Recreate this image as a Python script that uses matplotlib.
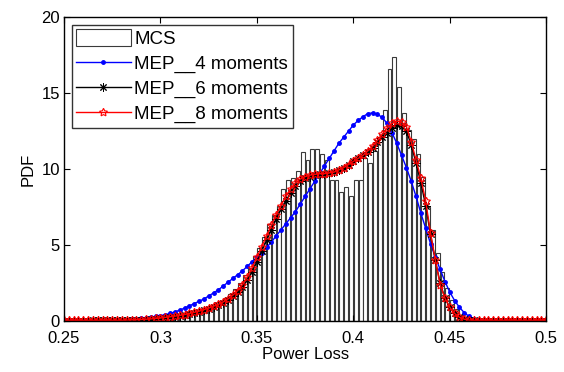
import numpy as np
import matplotlib
matplotlib.use('Agg')
import matplotlib.pyplot as plt

plt.rcParams['font.family'] = ['Liberation Sans', 'DejaVu Sans']

# MCS histogram (bin width 0.0025, first bin centre 0.29125)
bin_width = 0.0025
mcs_first = 0.29125
mcs_pdf = [0.05, 0.08, 0.1, 0.15, 0.2, 0.25, 0.3, 0.35, 0.4, 0.45,
           0.5, 0.55, 0.7, 0.8, 0.9, 1.1, 1.3, 1.5, 1.8, 2.1,
           2.5, 3.0, 3.5, 4.3, 4.8, 5.5, 6.4, 7.0, 7.6, 8.7,
           9.3, 9.4, 9.9, 11.1, 10.6, 11.3, 11.3, 11.0, 10.6, 9.3,
           9.3, 8.5, 8.8, 8.2, 9.3, 9.3, 10.7, 10.4, 11.2, 12.1,
           13.9, 16.6, 17.4, 15.4, 13.7, 12.6, 12.0, 11.0, 9.5, 7.5,
           6.0, 4.5, 3.2, 2.2, 1.4, 0.8, 0.4, 0.15, 0.05]

# MEP curves sampled every 0.0025 from 0.25 to 0.5
x_step = 0.0025
mep4 = [0.0, 0.0, 0.0, 0.0, 0.01, 0.01, 0.02, 0.02, 0.03, 0.04,
        0.05, 0.06, 0.08, 0.1, 0.12, 0.15, 0.18, 0.22, 0.26, 0.3,
        0.35, 0.42, 0.5, 0.6, 0.72, 0.85, 1.0, 1.15, 1.3, 1.45,
        1.65, 1.85, 2.05, 2.3, 2.55, 2.8, 3.05, 3.3, 3.6, 3.9,
        4.2, 4.5, 4.85, 5.2, 5.6, 6.0, 6.4, 6.8, 7.2, 7.7,
        8.2, 8.7, 9.2, 9.7, 10.2, 10.7, 11.2, 11.7, 12.1, 12.5,
        12.9, 13.2, 13.45, 13.65, 13.7, 13.6, 13.4, 13.0, 12.4, 11.7,
        10.9, 10.1, 9.2, 8.2, 7.1, 6.1, 5.1, 4.2, 3.4, 2.6,
        1.9, 1.35, 0.9, 0.55, 0.3, 0.15, 0.07, 0.03, 0.01, 0.0,
        0.0, 0.0, 0.0, 0.0, 0.0, 0.0, 0.0, 0.0, 0.0, 0.0, 0.0]
mep6 = [0.03, 0.03, 0.03, 0.03, 0.03, 0.03, 0.04, 0.04, 0.04, 0.04,
        0.04, 0.05, 0.05, 0.05, 0.06, 0.07, 0.08, 0.1, 0.12, 0.14,
        0.17, 0.2, 0.24, 0.28, 0.33, 0.39, 0.45, 0.52, 0.6, 0.7,
        0.8, 0.92, 1.05, 1.2, 1.4, 1.62, 1.9, 2.25, 2.7, 3.25,
        3.9, 4.6, 5.3, 6.0, 6.7, 7.35, 7.9, 8.45, 8.9, 9.2,
        9.4, 9.5, 9.6, 9.65, 9.7, 9.75, 9.8, 9.95, 10.1, 10.3,
        10.5, 10.7, 10.9, 11.15, 11.4, 11.75, 12.1, 12.4, 12.7, 12.9,
        12.85, 12.5, 11.6, 10.4, 9.1, 7.6, 5.7, 4.0, 2.5, 1.5,
        0.9, 0.5, 0.25, 0.12, 0.06, 0.04, 0.03, 0.03, 0.03, 0.03,
        0.03, 0.03, 0.03, 0.03, 0.03, 0.03, 0.03, 0.03, 0.03, 0.03, 0.03]
mep8 = [0.05, 0.05, 0.05, 0.05, 0.05, 0.05, 0.05, 0.05, 0.05, 0.05,
        0.05, 0.05, 0.05, 0.06, 0.07, 0.08, 0.1, 0.12, 0.14, 0.17,
        0.2, 0.24, 0.28, 0.32, 0.37, 0.43, 0.5, 0.57, 0.65, 0.75,
        0.85, 0.97, 1.1, 1.25, 1.45, 1.7, 2.0, 2.4, 2.9, 3.5,
        4.2, 4.9, 5.6, 6.3, 7.0, 7.6, 8.2, 8.7, 9.1, 9.35,
        9.5, 9.6, 9.65, 9.7, 9.7, 9.75, 9.8, 9.95, 10.1, 10.3,
        10.5, 10.7, 10.9, 11.2, 11.5, 11.9, 12.3, 12.7, 13.0, 13.15,
        13.1, 12.8, 11.8, 10.6, 9.4, 7.9, 5.8, 4.0, 2.4, 1.5,
        0.9, 0.5, 0.25, 0.12, 0.06, 0.05, 0.05, 0.05, 0.05, 0.05,
        0.05, 0.05, 0.05, 0.05, 0.05, 0.05, 0.05, 0.05, 0.05, 0.05, 0.05]

bin_x = mcs_first + bin_width * np.arange(len(mcs_pdf))
x = 0.25 + x_step * np.arange(len(mep4))

fig = plt.figure(figsize=(5.64, 3.72), dpi=100)
ax = fig.add_axes([0.1135, 0.137, 0.855, 0.817])

bars = ax.bar(bin_x, mcs_pdf, width=bin_width * 0.8, color='white',
              edgecolor='#3a3a3a', linewidth=0.8, label='MCS')
l4, = ax.plot(x, mep4, color='blue', lw=1, marker='o', ms=2.5,
              label='MEP__4 moments')
l6, = ax.plot(x, mep6, color='black', lw=1, marker=(8, 2, 0), ms=6,
              mew=0.7, label='MEP__6 moments')
l8, = ax.plot(x, mep8, color='red', lw=1, marker=(5, 1, 0), ms=6,
              mfc='none', mew=0.8, label='MEP__8 moments')

ax.set_xlim(0.25, 0.5)
ax.set_ylim(0, 20)
ax.set_xticks([0.25, 0.3, 0.35, 0.4, 0.45, 0.5])
ax.set_xticklabels(['0.25', '0.3', '0.35', '0.4', '0.45', '0.5'])
ax.set_yticks([0, 5, 10, 15, 20])
ax.tick_params(direction='in', top=True, right=True, labelsize=12,
               length=4, width=0.8)
ax.tick_params(axis='x', pad=7)
ax.tick_params(axis='y', pad=3)
for s in ax.spines.values():
    s.set_linewidth(1.0)

ax.set_xlabel('Power Loss', fontsize=12, labelpad=1)
ax.set_ylabel('PDF', fontsize=12, labelpad=4)

leg = ax.legend([bars, l4, l6, l8],
                ['MCS', 'MEP__4 moments', 'MEP__6 moments', 'MEP__8 moments'],
                loc='upper left', fontsize=13.5, frameon=True, fancybox=False,
                edgecolor='black', borderpad=0.25, labelspacing=0.32,
                handlelength=2.9, handleheight=1.0, handletextpad=0.2,
                borderaxespad=0.4)
leg.get_frame().set_linewidth(1.0)

fig.savefig('out.png', dpi=100)
